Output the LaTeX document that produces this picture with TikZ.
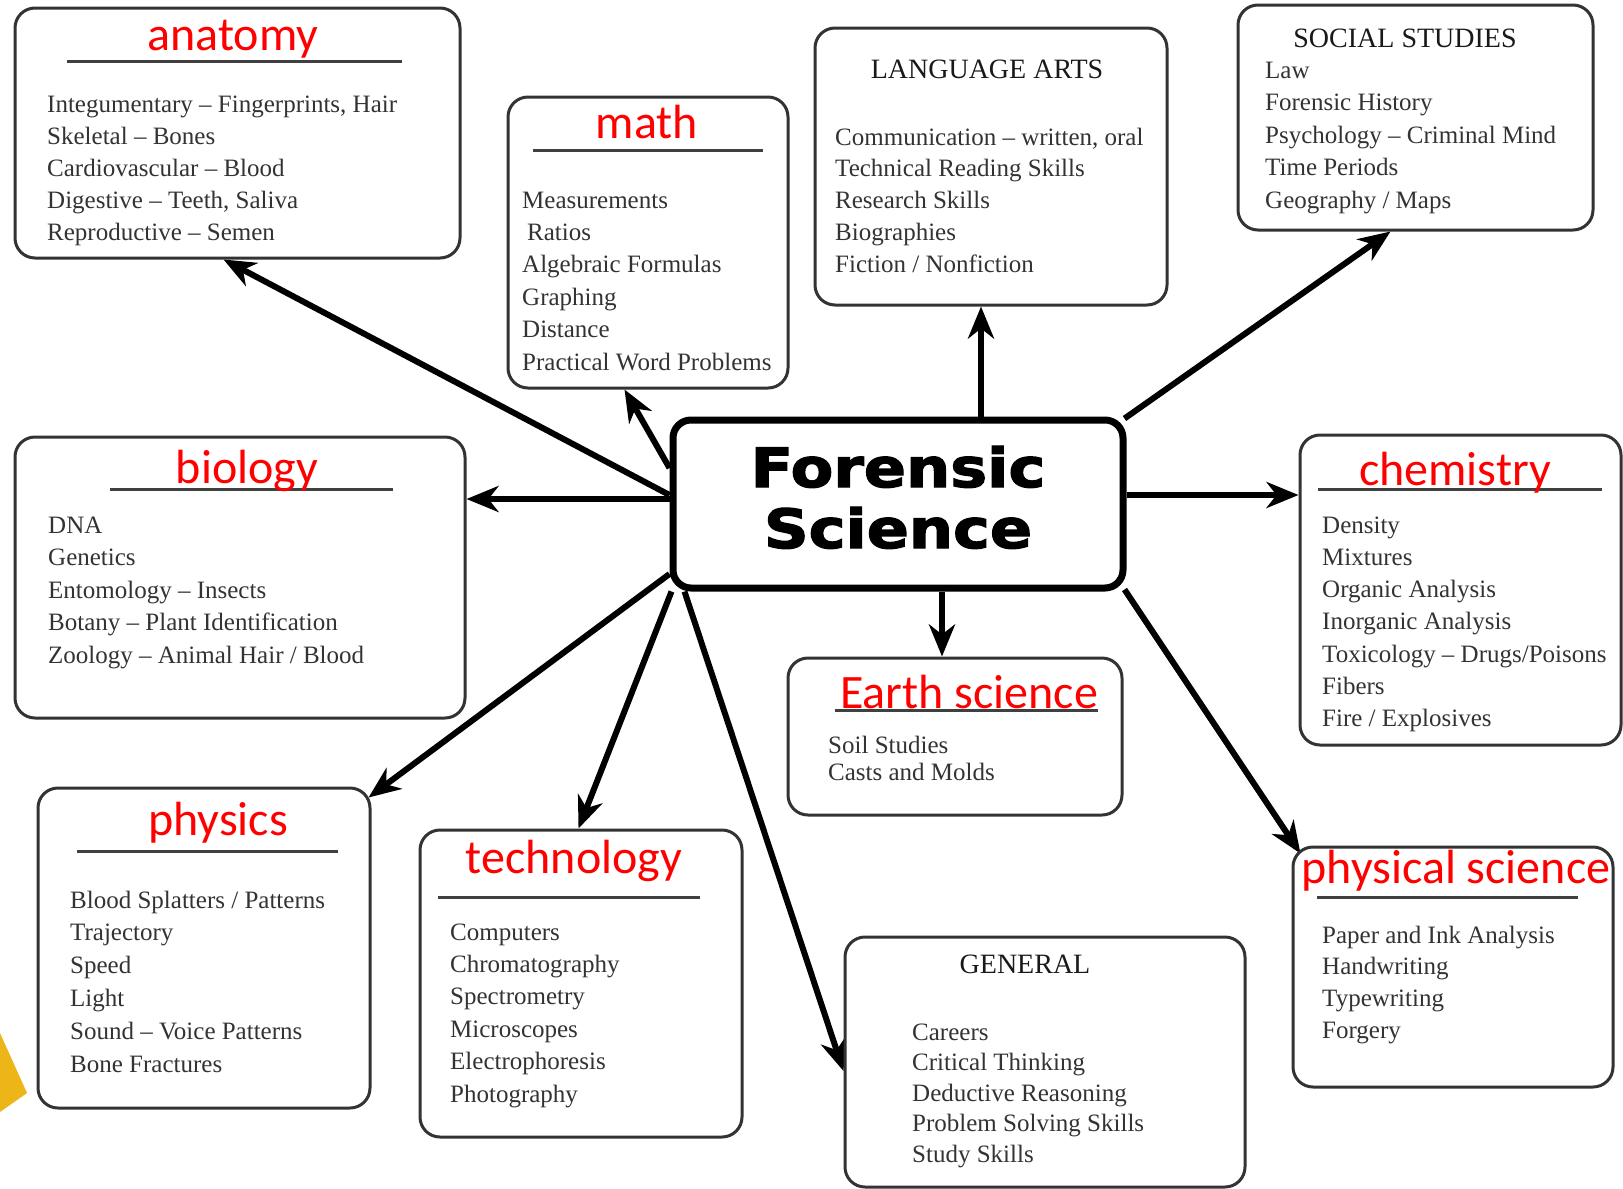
\documentclass[tikz,border=0pt]{standalone}
\usepackage{fontspec}
\setmainfont{Liberation Serif}
\newfontfamily\titlefont{Carlito}
\newfontfamily\fsfont[FakeStretch=1.15,FakeBold=2.5]{DejaVu Sans}
\usetikzlibrary{arrows.meta,calc}
\pgfdeclarelayer{bg}
\pgfsetlayers{bg,main}
\definecolor{ttlred}{RGB}{255,0,0}
\definecolor{gold}{RGB}{236,182,24}
\tikzset{
  box/.style={draw=black!80, line width=3pt, rounded corners=20pt, fill=white, inner sep=0pt},
  fsbox/.style={draw=black, line width=7pt, rounded corners=18pt, fill=white, inner sep=0pt,
    minimum width=450pt, minimum height=168pt},
  ttl/.style={anchor=base, text=ttlred, inner sep=0pt, font=\titlefont\fontsize{48}{48}\selectfont},
  itm/.style={anchor=base west, text=black!80, inner sep=0pt, font=\fontsize{25}{25}\selectfont},
  hdr/.style={anchor=base, text=black!90, inner sep=0pt, font=\fontsize{28}{28}\selectfont},
  fstext/.style={anchor=base, inner sep=0pt, font=\fsfont\bfseries\fontsize{54}{54}\selectfont},
  ttlrule/.style={line width=3pt, draw=black!75},
  arr/.style={line width=6pt, draw=black, -{Stealth[length=32pt,width=26pt,inset=10pt]}}
}
\begin{document}
\begin{tikzpicture}[x=1pt,y=-1pt]
\useasboundingbox (0,0) rectangle (1623,1189);
\begin{pgfonlayer}{bg}
\fill[white] (0,0) rectangle (1623,1189);
\fill[gold] (0,1033) -- (27,1093) -- (0,1112) -- cycle;
\end{pgfonlayer}

% boxes
\node[box, minimum width=445pt, minimum height=250pt] (anat) at (237.5,133) {};
\node[box, minimum width=280pt, minimum height=291pt] (math) at (648,242.5) {};
\node[box, minimum width=352pt, minimum height=277pt] (lang) at (991,166.5) {};
\node[box, minimum width=355pt, minimum height=225pt] (soc) at (1415.5,117.5) {};
\node[box, minimum width=450pt, minimum height=281pt] (bio) at (240,577.5) {};
\node[box, minimum width=321pt, minimum height=310pt] (chem) at (1460.5,590) {};
\node[box, minimum width=334pt, minimum height=157pt] (earth) at (955,736.5) {};
\node[box, minimum width=332pt, minimum height=320pt] (phys) at (204,948) {};
\node[box, minimum width=322pt, minimum height=307pt] (tech) at (581,983.5) {};
\node[box, minimum width=400pt, minimum height=250pt] (gen) at (1045,1062) {};
\node[box, minimum width=320pt, minimum height=240pt] (psci) at (1453,967) {};
\node[fsbox] (fs) at (898,504) {};

% central title
\node[fstext] (fs1) at (898,487) {Forensic};
\node[fstext] (fs2) at (898,548) {Science};

% title rules
\draw[ttlrule] (67,61) -- (402,61);
\draw[ttlrule] (533,150) -- (763,150);
\draw[ttlrule] (110,489) -- (393,489);
\draw[ttlrule] (1318,489) -- (1602,489);
\draw[ttlrule] (835,710) -- (1098,710);
\draw[ttlrule] (77,851) -- (338,851);
\draw[ttlrule] (438,897) -- (700,897);
\draw[ttlrule] (1317,897) -- (1578,897);

% red titles
\node[ttl] (t-anat) at (233,50) {anatomy};
\node[ttl] (t-math) at (647,138) {math};
\node[ttl] (t-bio) at (247,483) {biology};
\node[ttl] (t-chem) at (1455,485) {chemistry};
\node[ttl] (t-earth) at (969,708) {Earth science};
\node[ttl] (t-phys) at (218,835) {physics};
\node[ttl] (t-tech) at (574,873) {technology};
\node[ttl] (t-psci) at (1456,883) {physical science};

% serif headers
\node[hdr] (h-lang) at (987,78) {LANGUAGE ARTS};
\node[hdr] (h-soc) at (1405,47) {SOCIAL STUDIES};
\node[hdr] (h-gen) at (1025,973) {GENERAL};

% items
\foreach \t [count=\i] in {{Integumentary – Fingerprints, Hair},{Skeletal – Bones},{Cardiovascular – Blood},{Digestive – Teeth, Saliva},{Reproductive – Semen}}
  \node[itm] (anat-\i) at (47,{112+(\i-1)*32}) {\t};
\foreach \t [count=\i] in {{Measurements},{\hspace{5pt}Ratios},{Algebraic Formulas},{Graphing},{Distance},{Practical Word Problems}}
  \node[itm] (math-\i) at (522,{208+(\i-1)*32.4}) {\t};
\foreach \t [count=\i] in {{Communication – written, oral},{Technical Reading Skills},{Research Skills},{Biographies},{Fiction / Nonfiction}}
  \node[itm] (lang-\i) at (835,{145+(\i-1)*31.8}) {\t};
\foreach \t [count=\i] in {{Law},{Forensic History},{Psychology – Criminal Mind},{Time Periods},{Geography / Maps}}
  \node[itm] (soc-\i) at (1265,{78+(\i-1)*32.5}) {\t};
\foreach \t [count=\i] in {{DNA},{Genetics},{Entomology – Insects},{Botany – Plant Identification},{Zoology – Animal Hair / Blood}}
  \node[itm] (bio-\i) at (48,{533+(\i-1)*32.5}) {\t};
\foreach \t [count=\i] in {{Density},{Mixtures},{Organic Analysis},{Inorganic Analysis},{Toxicology – Drugs/Poisons},{Fibers},{Fire / Explosives}}
  \node[itm] (chem-\i) at (1322,{533+(\i-1)*32.3}) {\t};
\foreach \t [count=\i] in {{Soil Studies},{Casts and Molds}}
  \node[itm] (earth-\i) at (828,{753+(\i-1)*27}) {\t};
\foreach \t [count=\i] in {{Blood Splatters / Patterns},{Trajectory},{Speed},{Light},{Sound – Voice Patterns},{Bone Fractures}}
  \node[itm] (phys-\i) at (70,{908+(\i-1)*32.8}) {\t};
\foreach \t [count=\i] in {{Computers},{Chromatography},{Spectrometry},{Microscopes},{Electrophoresis},{Photography}}
  \node[itm] (tech-\i) at (450,{940+(\i-1)*32.4}) {\t};
\foreach \t [count=\i] in {{Careers},{Critical Thinking},{Deductive Reasoning},{Problem Solving Skills},{Study Skills}}
  \node[itm] (gen-\i) at (912,{1040+(\i-1)*30.5}) {\t};
\foreach \t [count=\i] in {{Paper and Ink Analysis},{Handwriting},{Typewriting},{Forgery}}
  \node[itm] (psci-\i) at (1322,{943+(\i-1)*31.7}) {\t};

% connectors
\path ([yshift=5pt]fs.west) coordinate (bs);
\path ([xshift=83pt]fs.north) coordinate (ls);
\path ([yshift=9pt]fs.east) coordinate (cs);
\path ([xshift=44pt]fs.south) coordinate (es);
\begin{pgfonlayer}{bg}
\draw[arr] ([yshift=9pt]fs.west) -- ([xshift=210pt]anat.south west);
\draw[arr] ([yshift=36pt]fs.west) -- ([xshift=118pt]math.south west);
\draw[arr] (bs) -- (bs -| bio.east);
\draw[arr] (ls) -- (ls |- lang.south);
\draw[arr] ([xshift=-2pt,yshift=-2pt]fs.north east) -- ([xshift=154pt]soc.south west);
\draw[arr] (cs) -- (cs -| chem.west);
\draw[arr] (es) -- (es |- earth.north);
\draw[arr] ([xshift=-2pt,yshift=2pt]fs.south east) -- ([xshift=9pt,yshift=-8pt]psci.north west);
\draw[arr] ([yshift=-70pt]fs.west) -- ([xshift=-3pt,yshift=-11pt]phys.north east);
\draw[arr] ([xshift=2pt]fs.south west) -- ([xshift=160pt]tech.north west);
\draw[arr] ([xshift=15pt]fs.south west) -- ([yshift=-9pt]gen.west);
\end{pgfonlayer}
\end{tikzpicture}
\end{document}
